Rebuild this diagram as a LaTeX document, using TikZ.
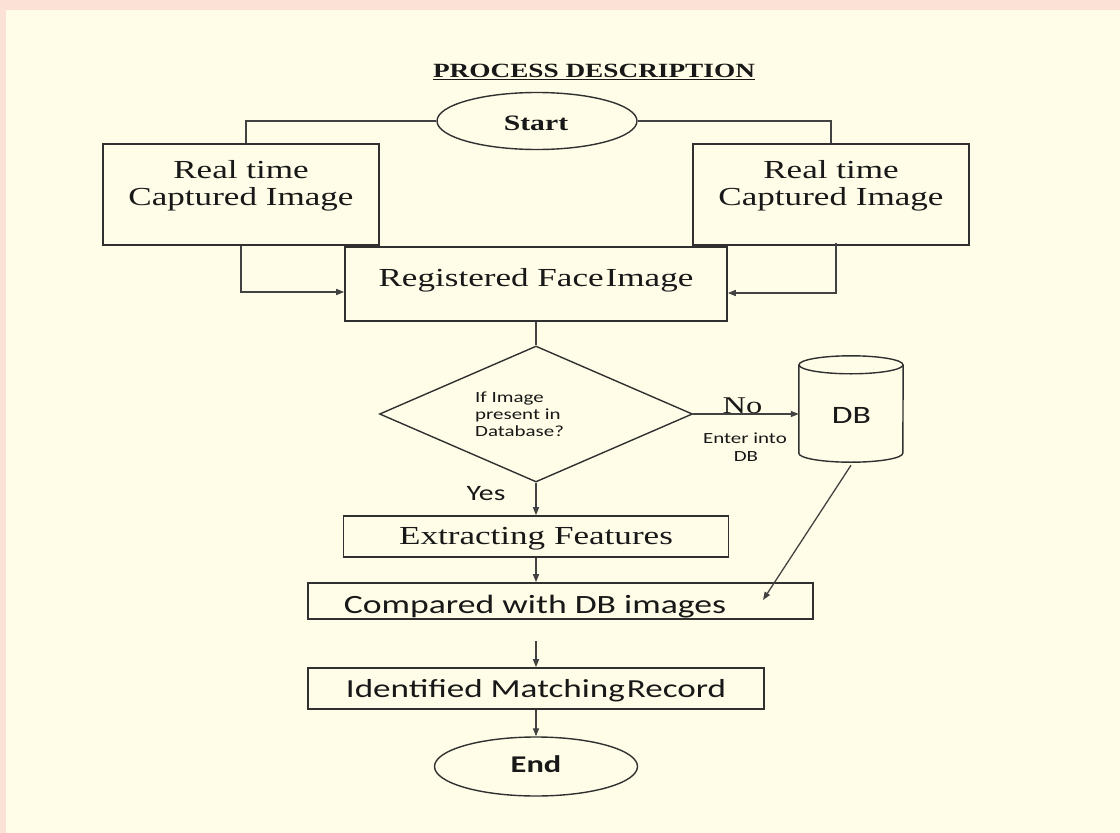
\documentclass[tikz,border=0pt]{standalone}
\usepackage{fontspec}
\usetikzlibrary{shapes.geometric,arrows.meta}
\newfontfamily\serifw[FakeStretch=1.35]{Liberation Serif}
\newfontfamily\sansw[FakeStretch=1.35]{Carlito}
\definecolor{pagepink}{RGB}{252,226,214}
\definecolor{cream}{RGB}{255,253,232}
\definecolor{ink}{RGB}{24,24,24}
\definecolor{edge}{RGB}{48,48,48}
\definecolor{wire}{RGB}{66,66,66}
\newcommand{\fsz}[1]{\fontsize{#1pt}{#1pt}\selectfont}

\begin{document}
\begin{tikzpicture}[x=1pt,y=-1pt,
  box/.style={draw=edge,line width=1.6pt,inner sep=0pt},
  oval/.style={ellipse,draw=edge,line width=1.4pt,inner sep=0pt},
  txt/.style={inner sep=0pt,anchor=base,text=ink},
  conn/.style={draw=wire,line width=1.3pt},
  arr/.style={conn,-{Triangle[length=8pt,width=6pt]}}
]
\useasboundingbox (0,0) rectangle (1120,833);
\fill[pagepink] (0,0) rectangle (1120,833);
\fill[cream] (6,10) rectangle (1120,833);

% heading
\node[txt] (title) at (594,77) {\serifw\bfseries\fsz{20.2}PROCESS DESCRIPTION};
\draw[line width=1.5pt,ink] ([yshift=-2.5pt]title.base west) -- ([yshift=-2.5pt]title.base east);

% terminals
\node[oval,minimum width=200pt,minimum height=57pt] (start) at (537,121) {};
\node[txt] (starttxt) at (536,130) {\serifw\bfseries\fsz{22}Start};
\node[oval,minimum width=203pt,minimum height=59pt] (end) at (536,766.5) {};
\node[txt] (endtxt) at (536,772) {\sansw\bfseries\fsz{24}End};

% capture boxes
\node[box,minimum width=276pt,minimum height=101pt] (lbox) at (241,194.5) {};
\node[txt] (ltxta) at (241,178) {\serifw\fsz{26}Real time};
\node[txt] (ltxtb) at (241,205) {\serifw\fsz{26}Captured Image};
\node[box,minimum width=276pt,minimum height=101pt] (rbox) at (831,194.5) {};
\node[txt] (rtxta) at (831,178) {\serifw\fsz{26}Real time};
\node[txt] (rtxtb) at (831,205) {\serifw\fsz{26}Captured Image};

% registration
\node[box,minimum width=382pt,minimum height=74pt] (reg) at (536,284) {};
\node[txt] (regtxt) at (536,286) {\serifw\fsz{26}Registered Face\kern2pt Image};

% decision
\node[diamond,draw=edge,line width=1.4pt,inner sep=0pt,minimum width=313pt,minimum height=136pt] (dia) at (536,414) {};
\node[txt,anchor=base west] (qa) at (475,402) {\sansw\fsz{15.5}If Image};
\node[txt,anchor=base west] (qb) at (475,419) {\sansw\fsz{15.5}present in};
\node[txt,anchor=base west] (qc) at (475,436) {\sansw\fsz{15.5}Database?};

% database
\node[inner sep=0pt,minimum width=104pt,minimum height=88pt] (db) at (851,409) {};
\draw[edge,line width=1.4pt] (db.north) ellipse [x radius=52pt,y radius=9pt];
\draw[edge,line width=1.4pt] (db.north west) -- (db.south west)
  arc[start angle=180,end angle=360,x radius=52pt,y radius=9pt] -- (db.north east);
\node[txt] (dbtxt) at (851.5,423) {\sansw\fsz{25}DB};
\coordinate (dbbot) at ([yshift=-12pt]db.south);

% processing
\node[box,minimum width=385pt,minimum height=41pt] (ext) at (536,536.5) {};
\node[txt] (exttxt) at (536,544) {\serifw\fsz{26}Extracting Features};
\node[box,minimum width=505pt,minimum height=36pt] (cmp) at (560.5,601) {};
\node[txt] (cmptxt) at (535,613) {\sansw\fsz{26.4}Compared with DB images};
\node[box,minimum width=456pt,minimum height=41pt] (idf) at (536,688.5) {};
\node[txt] (idftxt) at (536,697.5) {\sansw\fsz{26}Identified Matching\kern2pt Record};
\coordinate (cmpin) at (763,600);
\coordinate (gap) at (536,641);

% connectors
\draw[conn] (start.west) -| ([xshift=5pt]lbox.north);
\draw[conn] (start.east) -| (rbox.north);
\draw[arr] (lbox.south) |- ([yshift=-8pt]reg.west);
\coordinate (rdrop) at ([xshift=5pt,yshift=3pt]rbox.south);
\draw[arr] (rdrop) |- ([yshift=-9pt]reg.east);
\draw[conn] (reg.south) -- (dia.north);
\draw[arr] (dia.east) -- (dia.east -| db.west);
\node[txt] (notxt) at (742.5,413) {\serifw\fsz{24}No};
\node[txt] (entera) at (745,443) {\sansw\fsz{15.5}Enter into};
\node[txt] (enterb) at (746,461.5) {\sansw\fsz{15.5}DB};
\draw[arr] (dia.south) -- (ext.north);
\node[txt] (yestxt) at (486,500) {\sansw\fsz{22}Yes};
\draw[arr] (ext.south) -- (ext.south |- cmp.north);
\draw[arr] (gap) -- (idf.north);
\draw[arr] (idf.south) -- (end.north);
\draw[arr] (dbbot) -- (cmpin);
\end{tikzpicture}
\end{document}
